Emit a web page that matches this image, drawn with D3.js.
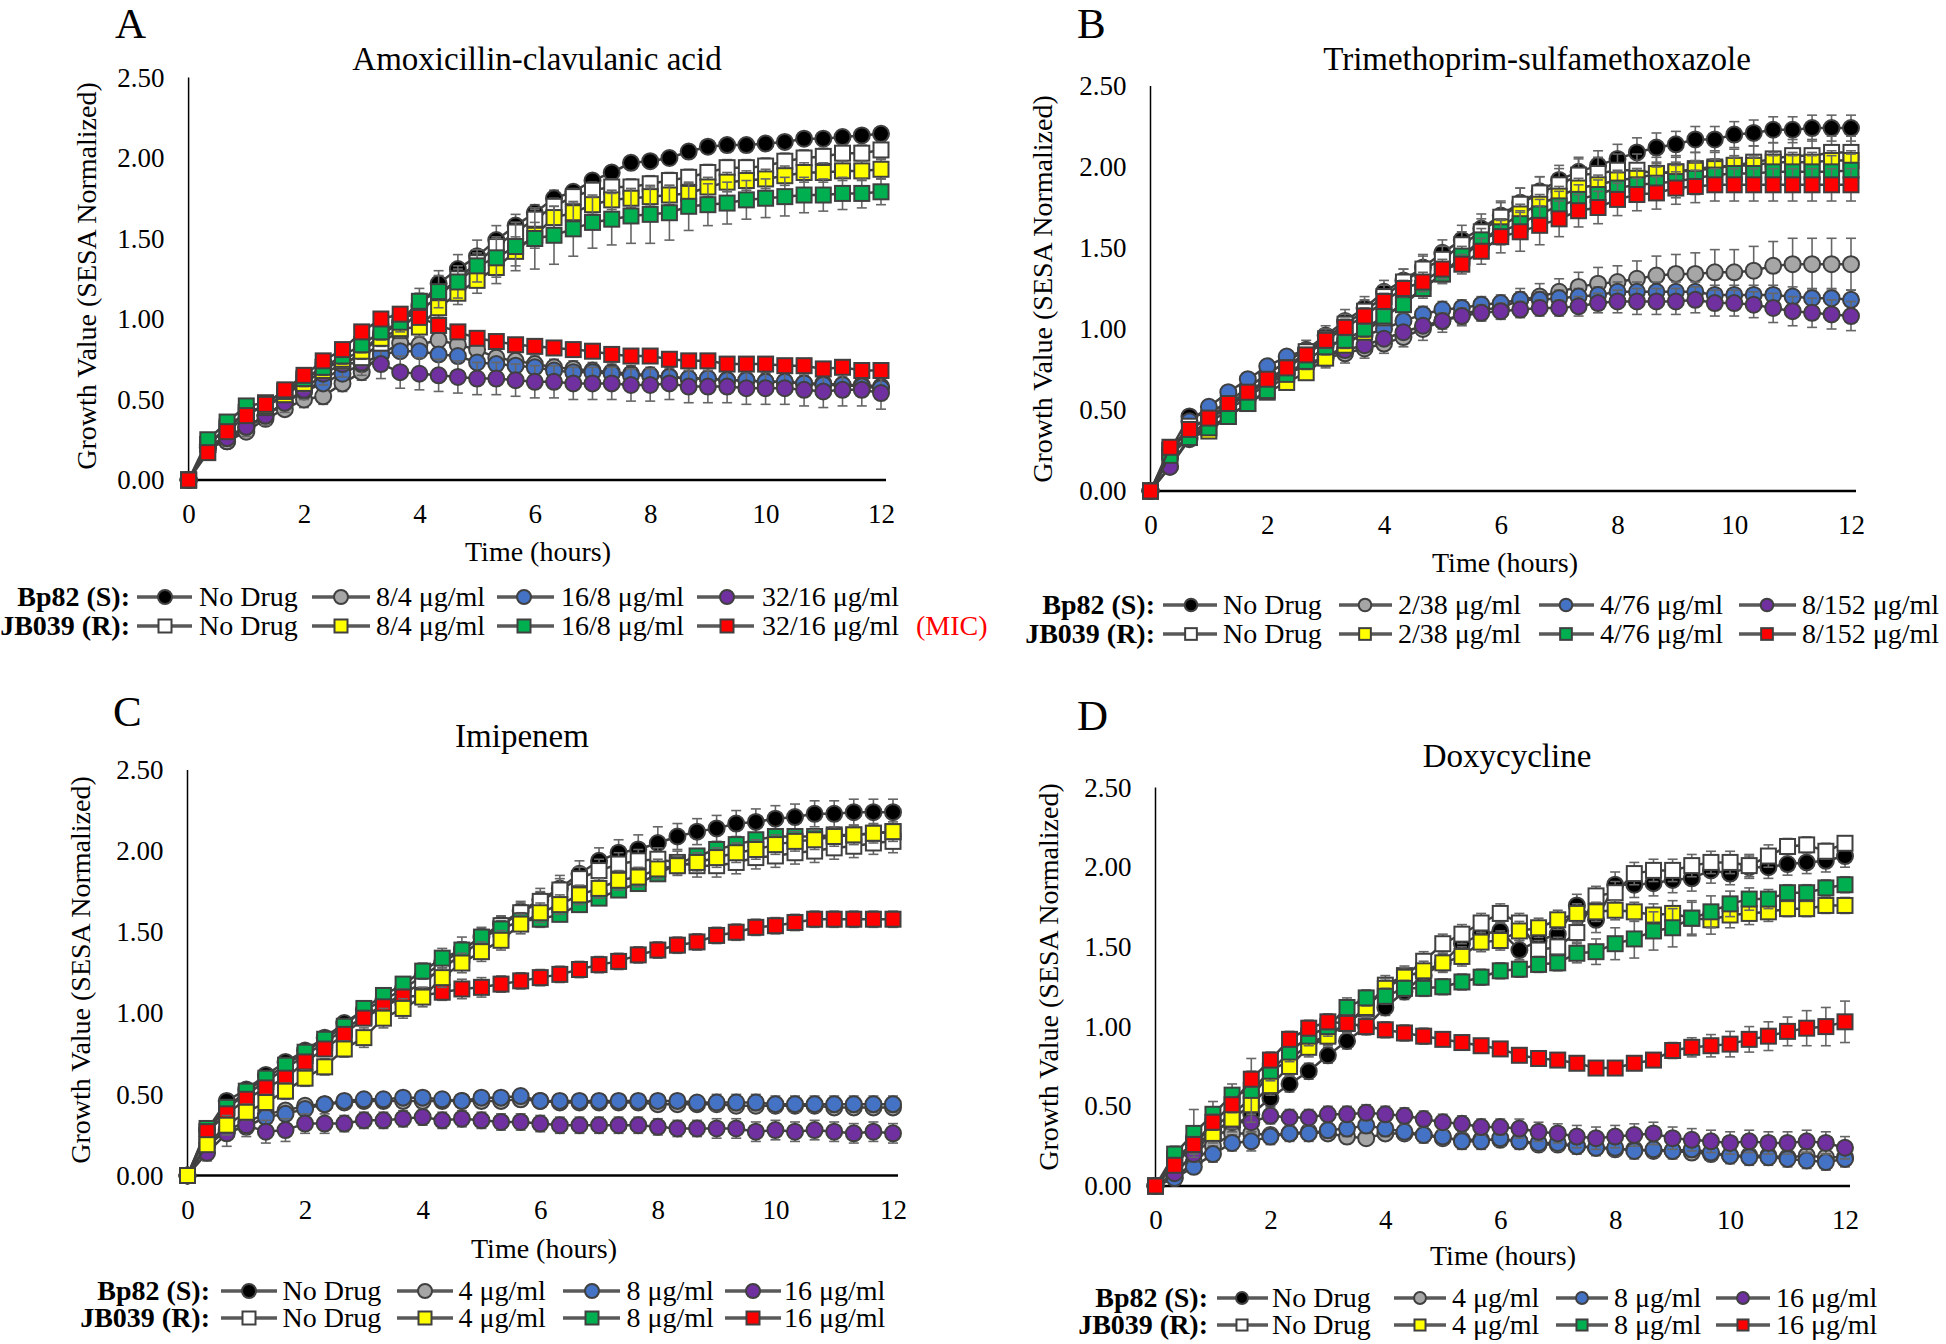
<!DOCTYPE html>
<html><head><meta charset="utf-8">
<script src="https://cdn.jsdelivr.net/npm/d3@7"></script>
<style>
body{margin:0;background:#fff}
svg{display:block}
text{font-family:"Liberation Serif","Times New Roman",serif;fill:#000}
</style>
</head><body>
<svg id="chart" width="1946" height="1344"></svg>
<script>
// ---------------- DATA ----------------
const time = [0,0.333,0.667,1,1.333,1.667,2,2.333,2.667,3,3.333,3.667,4,4.333,4.667,5,5.333,5.667,6,6.333,6.667,7,7.333,7.667,8,8.333,8.667,9,9.333,9.667,10,10.333,10.667,11,11.333,11.667,12];
const xTicks = [0,2,4,6,8,10,12];
const yTicks = [0,0.5,1,1.5,2,2.5];

const titles = ["Amoxicillin-clavulanic acid","Trimethoprim-sulfamethoxazole","Imipenem","Doxycycline"];
const panelLetters = ["A","B","C","D"];
const strainLabels = ["Bp82 (S):","JB039 (R):"];
const legA = ["No Drug","8/4 μg/ml","16/8 μg/ml","32/16 μg/ml"];
const legB = ["No Drug","2/38 μg/ml","4/76 μg/ml","8/152 μg/ml"];
const legC = ["No Drug","4 μg/ml","8 μg/ml","16 μg/ml"];
const legD = ["No Drug","4 μg/ml","8 μg/ml","16 μg/ml"];

// Panel A
const aBlack  = [0,0.22,0.24,0.32,0.40,0.48,0.55,0.62,0.70,0.80,0.90,0.98,1.08,1.22,1.31,1.39,1.49,1.58,1.66,1.75,1.79,1.86,1.91,1.97,1.98,2.00,2.04,2.07,2.08,2.08,2.09,2.10,2.12,2.12,2.13,2.14,2.15];
const aGray   = [0,0.20,0.24,0.30,0.38,0.44,0.50,0.52,0.60,0.67,0.78,0.85,0.84,0.87,0.84,0.81,0.76,0.74,0.72,0.70,0.69,0.68,0.67,0.66,0.65,0.64,0.63,0.63,0.62,0.62,0.61,0.61,0.60,0.60,0.59,0.59,0.58];
const aBlue   = [0,0.21,0.27,0.33,0.40,0.48,0.55,0.60,0.66,0.72,0.78,0.80,0.80,0.78,0.77,0.73,0.72,0.71,0.70,0.68,0.67,0.67,0.66,0.65,0.65,0.64,0.63,0.63,0.62,0.62,0.61,0.61,0.60,0.59,0.59,0.58,0.57];
const aPurple = [0,0.20,0.26,0.33,0.40,0.48,0.56,0.66,0.72,0.73,0.72,0.67,0.66,0.65,0.64,0.63,0.63,0.62,0.61,0.61,0.60,0.60,0.60,0.59,0.59,0.60,0.58,0.58,0.58,0.57,0.57,0.57,0.56,0.55,0.56,0.56,0.54];
const aWhite  = [0,0.22,0.33,0.42,0.45,0.53,0.62,0.70,0.74,0.76,0.85,0.93,1.05,1.14,1.25,1.35,1.45,1.54,1.62,1.70,1.76,1.80,1.82,1.82,1.84,1.86,1.88,1.91,1.94,1.94,1.95,1.98,2.00,2.01,2.03,2.03,2.05];
const aYellow = [0,0.22,0.32,0.42,0.46,0.53,0.60,0.68,0.75,0.80,0.88,0.94,0.95,1.07,1.16,1.24,1.32,1.42,1.52,1.63,1.66,1.71,1.74,1.75,1.76,1.77,1.78,1.82,1.85,1.86,1.87,1.89,1.91,1.91,1.92,1.92,1.93];
const aGreen  = [0,0.25,0.36,0.46,0.48,0.55,0.63,0.70,0.77,0.84,0.92,0.98,1.11,1.17,1.23,1.33,1.38,1.45,1.50,1.52,1.56,1.60,1.62,1.64,1.65,1.66,1.70,1.71,1.72,1.74,1.75,1.76,1.77,1.77,1.78,1.78,1.79];
const aRed    = [0,0.17,0.30,0.40,0.47,0.56,0.65,0.74,0.81,0.92,1.00,1.03,1.01,0.96,0.92,0.88,0.86,0.84,0.83,0.82,0.81,0.80,0.78,0.77,0.77,0.75,0.74,0.74,0.72,0.72,0.72,0.71,0.71,0.69,0.70,0.68,0.68];
const aBlackE  = [0,.03,.04,.04,.04,.04,.04,.04,.05,.05,.05,.06,.08,.08,.09,.10,.09,.07,.05,.05,.04,.04,.04,.04,.04,.04,.04,.04,.04,.04,.04,.04,.04,.04,.04,.04,.04];
const aGrayE   = [0,.03,.04,.04,.04,.04,.05,.05,.05,.05,.05,.05,.05,.05,.05,.05,.05,.05,.05,.05,.05,.05,.05,.05,.05,.05,.05,.05,.05,.05,.05,.05,.05,.05,.05,.05,.05];
const aBlueE   = [0,.03,.04,.04,.04,.04,.04,.04,.04,.04,.04,.04,.04,.04,.04,.04,.04,.04,.04,.04,.04,.04,.04,.04,.04,.04,.04,.04,.04,.04,.04,.04,.04,.04,.04,.04,.04];
const aPurpleE = [0,.03,.05,.06,.06,.06,.06,.07,.08,.08,.09,.10,.10,.10,.10,.10,.10,.10,.10,.10,.10,.10,.10,.10,.10,.10,.10,.10,.10,.10,.10,.10,.10,.10,.10,.10,.10];
const aWhiteE  = [0,.03,.04,.04,.04,.04,.04,.05,.05,.05,.05,.05,.05,.06,.06,.06,.06,.06,.06,.05,.05,.05,.05,.05,.05,.05,.05,.05,.05,.05,.05,.05,.05,.05,.05,.05,.05];
const aYellowE = [0,.03,.04,.04,.04,.04,.05,.05,.05,.05,.05,.05,.06,.06,.07,.08,.10,.09,.08,.07,.06,.06,.06,.06,.06,.06,.06,.06,.06,.06,.06,.06,.06,.06,.06,.06,.06];
const aGreenE  = [0,.03,.04,.04,.04,.04,.05,.05,.05,.05,.05,.06,.08,.10,.10,.10,.12,.15,.19,.18,.17,.16,.16,.17,.18,.17,.15,.13,.13,.12,.12,.12,.11,.10,.10,.09,.08];
const aRedE    = [0,.03,.03,.03,.03,.03,.03,.03,.03,.04,.04,.04,.04,.04,.04,.03,.03,.03,.03,.03,.03,.03,.03,.03,.03,.03,.03,.03,.03,.03,.03,.03,.03,.03,.03,.03,.03];

// Panel B
const bBlack  = [0,0.25,0.46,0.48,0.55,0.64,0.72,0.80,0.87,0.96,1.05,1.13,1.23,1.30,1.38,1.47,1.55,1.62,1.70,1.78,1.85,1.92,1.97,2.01,2.05,2.09,2.12,2.14,2.17,2.17,2.20,2.21,2.23,2.23,2.24,2.24,2.24];
const bGray   = [0,0.15,0.33,0.45,0.52,0.60,0.68,0.73,0.77,0.82,0.85,0.88,0.91,0.95,1.00,1.05,1.09,1.12,1.13,1.18,1.20,1.23,1.26,1.28,1.29,1.31,1.33,1.34,1.34,1.35,1.35,1.36,1.39,1.40,1.40,1.40,1.40];
const bBlue   = [0,0.20,0.43,0.52,0.61,0.69,0.77,0.83,0.87,0.90,0.93,0.96,1.00,1.05,1.09,1.12,1.13,1.15,1.16,1.18,1.18,1.19,1.20,1.21,1.23,1.23,1.23,1.23,1.23,1.21,1.21,1.21,1.21,1.20,1.19,1.19,1.18];
const bPurple = [0,0.15,0.32,0.42,0.50,0.58,0.66,0.72,0.78,0.83,0.87,0.90,0.94,0.98,1.02,1.05,1.08,1.10,1.11,1.12,1.13,1.13,1.14,1.16,1.17,1.17,1.17,1.17,1.18,1.16,1.16,1.15,1.13,1.11,1.10,1.09,1.08];
const bWhite  = [0,0.25,0.40,0.44,0.52,0.60,0.68,0.76,0.86,0.94,1.03,1.11,1.20,1.29,1.37,1.43,1.52,1.60,1.69,1.77,1.84,1.89,1.95,1.96,1.98,1.98,1.96,1.97,1.99,2.00,2.01,2.03,2.05,2.07,2.07,2.09,2.09];
const bYellow = [0,0.25,0.33,0.37,0.46,0.54,0.61,0.67,0.73,0.82,0.90,0.98,1.07,1.16,1.25,1.34,1.44,1.54,1.63,1.71,1.77,1.82,1.87,1.89,1.92,1.93,1.96,1.97,1.98,1.99,2.01,2.01,2.03,2.03,2.03,2.04,2.04];
const bGreen  = [0,0.22,0.33,0.39,0.46,0.54,0.62,0.72,0.80,0.89,0.93,1.00,1.08,1.15,1.25,1.34,1.45,1.55,1.60,1.65,1.71,1.76,1.80,1.83,1.87,1.89,1.90,1.91,1.93,1.95,1.96,1.96,1.97,1.97,1.97,1.97,1.98];
const bRed    = [0,0.27,0.38,0.45,0.54,0.61,0.69,0.76,0.84,0.93,1.01,1.08,1.17,1.25,1.29,1.37,1.40,1.48,1.57,1.60,1.64,1.68,1.73,1.75,1.80,1.83,1.84,1.87,1.88,1.89,1.89,1.89,1.89,1.89,1.89,1.89,1.89];
const bBlackE  = [0,.03,.04,.04,.05,.05,.05,.05,.06,.06,.07,.07,.07,.07,.08,.08,.09,.09,.09,.09,.09,.09,.09,.09,.09,.09,.09,.08,.08,.08,.08,.08,.08,.08,.08,.08,.08];
const bGrayE   = [0,.03,.04,.04,.04,.04,.05,.05,.05,.06,.06,.06,.06,.06,.07,.07,.07,.07,.07,.07,.08,.08,.09,.10,.10,.11,.12,.12,.13,.14,.14,.15,.15,.16,.16,.16,.16];
const bBlueE   = [0,.03,.04,.04,.04,.04,.04,.04,.04,.04,.04,.04,.05,.05,.05,.05,.05,.05,.05,.05,.05,.05,.05,.05,.06,.06,.06,.06,.06,.06,.06,.06,.06,.06,.06,.06,.06];
const bPurpleE = [0,.03,.04,.04,.04,.04,.04,.04,.04,.04,.04,.04,.04,.04,.04,.05,.05,.05,.05,.05,.05,.05,.06,.06,.07,.08,.08,.08,.08,.08,.08,.08,.09,.09,.09,.09,.09];
const bWhiteE  = [0,.03,.04,.04,.04,.04,.05,.05,.05,.06,.06,.07,.07,.08,.08,.08,.08,.08,.09,.10,.10,.10,.10,.10,.10,.10,.10,.10,.10,.10,.10,.10,.10,.10,.10,.10,.10];
const bYellowE = [0,.03,.04,.04,.04,.04,.04,.04,.04,.05,.05,.05,.05,.05,.05,.05,.05,.05,.05,.06,.06,.06,.06,.06,.06,.06,.06,.06,.06,.06,.06,.06,.06,.06,.06,.06,.06];
const bGreenE  = [0,.03,.04,.04,.04,.04,.04,.04,.05,.05,.05,.05,.05,.05,.06,.06,.06,.07,.08,.08,.09,.09,.09,.09,.10,.10,.10,.10,.10,.10,.10,.10,.10,.10,.10,.10,.10];
const bRedE    = [0,.03,.04,.04,.04,.04,.04,.04,.04,.05,.05,.05,.05,.05,.06,.06,.06,.08,.10,.12,.12,.11,.10,.10,.10,.10,.10,.10,.10,.10,.10,.10,.10,.10,.10,.10,.10];

// Panel C
const cBlack  = [0,0.28,0.46,0.53,0.62,0.70,0.77,0.85,0.94,1.02,1.08,1.15,1.23,1.31,1.39,1.47,1.55,1.63,1.70,1.77,1.86,1.94,1.99,2.01,2.05,2.09,2.12,2.14,2.17,2.18,2.20,2.21,2.23,2.23,2.24,2.24,2.24];
const cGray   = [0,0.18,0.28,0.33,0.38,0.40,0.43,0.44,0.45,0.46,0.46,0.46,0.46,0.46,0.46,0.46,0.46,0.47,0.46,0.45,0.45,0.45,0.45,0.45,0.44,0.44,0.44,0.44,0.43,0.43,0.43,0.43,0.43,0.42,0.42,0.42,0.42];
const cBlue   = [0,0.20,0.27,0.30,0.36,0.38,0.41,0.44,0.46,0.47,0.47,0.48,0.48,0.47,0.46,0.48,0.48,0.49,0.46,0.46,0.46,0.46,0.46,0.46,0.46,0.46,0.45,0.45,0.45,0.45,0.44,0.44,0.44,0.44,0.44,0.44,0.44];
const cPurple = [0,0.14,0.26,0.31,0.27,0.28,0.32,0.32,0.32,0.34,0.34,0.35,0.36,0.34,0.35,0.34,0.33,0.33,0.32,0.31,0.31,0.31,0.31,0.31,0.30,0.29,0.29,0.29,0.29,0.27,0.28,0.27,0.28,0.27,0.26,0.27,0.26];
const cWhite  = [0,0.27,0.42,0.50,0.58,0.66,0.74,0.82,0.90,0.98,1.05,1.12,1.19,1.28,1.36,1.45,1.54,1.62,1.69,1.76,1.83,1.88,1.92,1.94,1.95,1.93,1.91,1.91,1.93,1.96,1.97,1.99,2.00,2.02,2.03,2.05,2.06];
const cYellow = [0,0.19,0.31,0.39,0.45,0.52,0.60,0.67,0.78,0.85,0.97,1.03,1.10,1.22,1.31,1.38,1.45,1.55,1.62,1.67,1.73,1.77,1.82,1.84,1.89,1.91,1.93,1.96,1.99,2.01,2.04,2.06,2.07,2.09,2.10,2.11,2.12];
const cGreen  = [0,0.29,0.42,0.52,0.60,0.68,0.76,0.84,0.92,1.03,1.11,1.18,1.26,1.34,1.39,1.47,1.52,1.57,1.58,1.61,1.67,1.71,1.76,1.80,1.86,1.92,1.97,2.01,2.04,2.07,2.09,2.09,2.09,2.10,2.10,2.11,2.12];
const cRed    = [0,0.27,0.38,0.47,0.54,0.60,0.70,0.78,0.87,0.97,1.04,1.10,1.11,1.13,1.15,1.16,1.18,1.20,1.22,1.24,1.27,1.30,1.32,1.36,1.39,1.42,1.44,1.48,1.50,1.53,1.54,1.56,1.58,1.58,1.58,1.58,1.58];
const cBlackE  = [0,.03,.04,.04,.04,.04,.04,.04,.04,.05,.05,.05,.05,.05,.05,.05,.05,.06,.07,.08,.08,.08,.08,.09,.10,.08,.08,.08,.08,.08,.08,.08,.08,.08,.08,.08,.08];
const cGrayE   = [0,.04,.04,.04,.04,.04,.04,.04,.04,.04,.04,.04,.04,.04,.04,.04,.04,.04,.04,.04,.04,.04,.04,.04,.04,.04,.04,.04,.04,.04,.04,.04,.04,.04,.04,.04,.04];
const cBlueE   = [0,.04,.04,.04,.04,.04,.04,.04,.04,.04,.04,.04,.04,.04,.04,.04,.04,.04,.04,.04,.04,.04,.04,.04,.04,.04,.04,.05,.05,.05,.05,.05,.05,.05,.05,.05,.05];
const cPurpleE = [0,.05,.08,.07,.07,.07,.06,.06,.05,.05,.05,.05,.05,.05,.05,.05,.05,.05,.05,.05,.05,.05,.05,.05,.05,.05,.05,.06,.06,.06,.06,.06,.06,.06,.06,.06,.06];
const cWhiteE  = [0,.03,.04,.04,.04,.04,.04,.05,.05,.05,.05,.05,.05,.05,.06,.06,.06,.06,.06,.07,.07,.07,.07,.07,.07,.07,.07,.07,.07,.07,.07,.07,.07,.07,.07,.07,.07];
const cYellowE = [0,.04,.06,.05,.05,.05,.05,.05,.05,.06,.06,.06,.06,.06,.06,.06,.06,.06,.06,.06,.06,.06,.06,.06,.06,.06,.06,.06,.06,.06,.06,.06,.06,.06,.06,.06,.06];
const cGreenE  = [0,.03,.04,.04,.04,.04,.04,.04,.04,.04,.04,.04,.05,.06,.08,.06,.05,.05,.05,.04,.04,.04,.04,.04,.04,.04,.04,.04,.04,.04,.04,.04,.04,.04,.04,.04,.04];
const cRedE    = [0,.03,.04,.04,.04,.04,.04,.04,.04,.04,.04,.05,.05,.05,.06,.06,.05,.05,.05,.05,.05,.05,.05,.05,.05,.05,.05,.05,.05,.05,.05,.05,.05,.05,.05,.05,.05];

// Panel D
const dBlack  = [0,0.08,0.20,0.30,0.37,0.45,0.55,0.64,0.72,0.82,0.91,1.00,1.12,1.22,1.32,1.40,1.52,1.58,1.60,1.48,1.54,1.58,1.76,1.67,1.89,1.89,1.90,1.92,1.93,1.98,1.96,2.00,2.00,2.02,2.03,2.04,2.07];
const dGray   = [0,0.05,0.15,0.25,0.33,0.33,0.32,0.33,0.34,0.33,0.31,0.30,0.33,0.33,0.32,0.30,0.29,0.29,0.29,0.28,0.26,0.26,0.25,0.24,0.23,0.23,0.22,0.22,0.21,0.20,0.19,0.19,0.19,0.18,0.19,0.18,0.18];
const dBlue   = [0,0.05,0.12,0.20,0.27,0.28,0.31,0.33,0.33,0.35,0.36,0.38,0.36,0.34,0.32,0.31,0.28,0.28,0.30,0.28,0.27,0.27,0.25,0.24,0.24,0.22,0.23,0.22,0.23,0.21,0.19,0.18,0.18,0.17,0.16,0.15,0.17];
const dPurple = [0,0.08,0.20,0.35,0.40,0.40,0.44,0.43,0.43,0.45,0.45,0.46,0.45,0.44,0.42,0.40,0.39,0.37,0.37,0.36,0.34,0.33,0.31,0.30,0.31,0.32,0.33,0.30,0.29,0.28,0.27,0.28,0.27,0.27,0.28,0.27,0.24];
const dWhite  = [0,0.17,0.27,0.37,0.45,0.55,0.72,0.79,0.89,0.95,1.02,1.11,1.26,1.32,1.41,1.52,1.58,1.65,1.71,1.65,1.48,1.50,1.59,1.82,1.84,1.96,1.98,1.98,2.01,2.03,2.03,2.01,2.07,2.13,2.14,2.10,2.15];
const dYellow = [0,0.15,0.26,0.33,0.42,0.51,0.63,0.75,0.87,0.94,1.02,1.12,1.24,1.31,1.35,1.40,1.44,1.53,1.54,1.60,1.62,1.67,1.71,1.72,1.73,1.72,1.70,1.71,1.68,1.67,1.70,1.71,1.72,1.74,1.74,1.76,1.76];
const dGreen  = [0,0.20,0.33,0.45,0.57,0.60,0.72,0.84,0.94,1.00,1.12,1.18,1.19,1.24,1.24,1.25,1.28,1.31,1.35,1.36,1.39,1.40,1.46,1.47,1.52,1.55,1.60,1.62,1.68,1.72,1.77,1.80,1.80,1.84,1.84,1.87,1.89];
const dRed    = [0,0.13,0.26,0.40,0.51,0.67,0.79,0.92,0.99,1.03,1.02,1.00,0.98,0.96,0.94,0.92,0.90,0.88,0.86,0.82,0.80,0.79,0.77,0.74,0.74,0.77,0.79,0.85,0.87,0.88,0.89,0.92,0.94,0.97,0.99,1.00,1.03];
const dBlackE  = [0,.04,.08,.06,.05,.05,.05,.05,.05,.05,.05,.05,.05,.05,.05,.05,.05,.05,.05,.06,.06,.06,.07,.08,.08,.08,.08,.08,.08,.08,.07,.07,.07,.07,.07,.07,.07];
const dGrayE   = [0,.03,.04,.04,.04,.04,.04,.04,.04,.04,.04,.04,.04,.04,.04,.04,.04,.04,.04,.04,.04,.04,.04,.04,.04,.04,.04,.04,.04,.04,.04,.04,.04,.04,.04,.04,.04];
const dBlueE   = [0,.03,.04,.05,.05,.06,.05,.05,.05,.05,.05,.05,.05,.05,.05,.05,.05,.05,.05,.05,.05,.05,.05,.05,.05,.05,.05,.05,.05,.05,.05,.05,.05,.05,.05,.05,.05];
const dPurpleE = [0,.03,.05,.06,.06,.06,.05,.05,.05,.05,.05,.05,.05,.05,.05,.05,.05,.05,.05,.06,.06,.06,.07,.07,.07,.07,.07,.07,.07,.07,.07,.07,.07,.07,.07,.07,.07];
const dWhiteE  = [0,.05,.06,.06,.06,.06,.06,.06,.06,.06,.06,.06,.06,.06,.06,.06,.06,.06,.06,.06,.06,.06,.06,.06,.07,.07,.07,.07,.07,.07,.07,.07,.07,.05,.05,.05,.04];
const dYellowE = [0,.04,.06,.06,.06,.06,.06,.06,.06,.06,.06,.06,.06,.06,.06,.06,.06,.06,.06,.06,.06,.06,.06,.06,.06,.06,.07,.08,.10,.09,.08,.07,.06,.05,.05,.05,.05];
const dGreenE  = [0,.05,.15,.08,.07,.20,.06,.06,.06,.06,.06,.05,.05,.05,.05,.05,.05,.05,.05,.05,.05,.05,.06,.08,.10,.12,.12,.12,.11,.10,.08,.07,.06,.05,.05,.05,.05];
const dRedE    = [0,.04,.05,.05,.05,.05,.05,.05,.05,.05,.05,.05,.05,.05,.05,.04,.04,.04,.04,.04,.04,.04,.04,.04,.04,.04,.04,.05,.06,.07,.08,.08,.09,.09,.11,.12,.13];

// ---------------- STYLE ----------------
const FONT = '"Liberation Serif","Times New Roman",serif';
const styles = [
  {fill:"#000000", shape:"circle"},
  {fill:"#a6a6a6", shape:"circle"},
  {fill:"#4472c4", shape:"circle"},
  {fill:"#7030a0", shape:"circle"},
  {fill:"#ffffff", shape:"square"},
  {fill:"#ffff00", shape:"square"},
  {fill:"#00b050", shape:"square"},
  {fill:"#ff0000", shape:"square"}
];
const STROKE = "#404040";

const panels = [
  {x0:188.6, x1:881, y0:480, y1:77.5, series:[aBlack,aGray,aBlue,aPurple,aWhite,aYellow,aGreen,aRed],
   errs:[aBlackE,aGrayE,aBlueE,aPurpleE,aWhiteE,aYellowE,aGreenE,aRedE], order:[0,1,2,3,4,5,6,7],
   letter:{x:115,y:38}, title:{x:537,y:70}, xt:{x:538,y:561}, yt:{x:86,y:276},
   leg:{labels:legA, right:130, rows:[606,635], items:[[137,192,165,199],[312,370,341,376],[497,554,524,561],[697,754,727,762]], mic:916, ms:1}},
  {x0:1150.5, x1:1851, y0:491, y1:86, series:[bBlack,bGray,bBlue,bPurple,bWhite,bYellow,bGreen,bRed],
   errs:[bBlackE,bGrayE,bBlueE,bPurpleE,bWhiteE,bYellowE,bGreenE,bRedE], order:[0,1,2,3,4,5,6,7],
   letter:{x:1077,y:38}, title:{x:1537,y:70}, xt:{x:1505,y:572}, yt:{x:1042,y:289},
   leg:{labels:legB, right:1155, rows:[614,643], items:[[1163,1217,1191,1223],[1339,1392,1365,1398],[1539,1594,1566,1600],[1739,1796,1767,1802]], ms:0.9}},
  {x0:187.5, x1:893, y0:1175.5, y1:770, series:[cBlack,cGray,cBlue,cPurple,cWhite,cYellow,cGreen,cRed],
   errs:[cBlackE,cGrayE,cBlueE,cPurpleE,cWhiteE,cYellowE,cGreenE,cRedE], order:[0,1,2,3,4,6,7,5],
   letter:{x:113,y:726}, title:{x:522,y:747}, xt:{x:544,y:1258}, yt:{x:80.5,y:970},
   leg:{labels:legC, right:210, rows:[1300,1327], items:[[221,277,249,282.5],[397,453,425,458.5],[563,620,592,626.5],[725,781,753,784]], ms:1}},
  {x0:1155.5, x1:1845, y0:1186, y1:787.5, series:[dBlack,dGray,dBlue,dPurple,dWhite,dYellow,dGreen,dRed],
   errs:[dBlackE,dGrayE,dBlueE,dPurpleE,dWhiteE,dYellowE,dGreenE,dRedE], order:[0,1,2,3,4,5,6,7],
   letter:{x:1077,y:730}, title:{x:1507,y:767}, xt:{x:1503,y:1265}, yt:{x:1048,y:977},
   leg:{labels:legD, right:1208, rows:[1307,1334], items:[[1217,1268,1242,1272],[1394,1446,1420,1452],[1556,1608,1582,1614],[1716,1770,1743,1776]], ms:0.85}}
];

const svg = d3.select("#chart");

function drawMarker(g, shape, cx, cy, fill, size, sw) {
  if (shape === "circle") {
    g.append("circle").attr("cx", cx).attr("cy", cy).attr("r", size/2)
      .attr("fill", fill).attr("stroke", STROKE).attr("stroke-width", sw);
  } else {
    g.append("rect").attr("x", cx - size/2).attr("y", cy - size/2).attr("width", size).attr("height", size)
      .attr("fill", fill).attr("stroke", STROKE).attr("stroke-width", sw);
  }
}

panels.forEach((p, pi) => {
  const x = d3.scaleLinear().domain([0, 12]).range([p.x0, p.x1]);
  const y = d3.scaleLinear().domain([0, 2.5]).range([p.y0, p.y1]);
  const g = svg.append("g");

  // Y axis
  const ya = g.append("g").attr("transform", `translate(${p.x0},0)`)
    .call(d3.axisLeft(y).tickValues(yTicks).tickFormat(d3.format(".2f")).tickSize(0).tickPadding(24));
  ya.select(".domain").remove();
  ya.attr("font-family", FONT).attr("font-size", 27);
  ya.selectAll("text").attr("fill", "#000");
  g.append("line").attr("x1", p.x0).attr("x2", p.x0).attr("y1", y(0)).attr("y2", y(2.5))
    .attr("stroke", "#000").attr("stroke-width", 1.5);

  // X axis
  const xa = g.append("g").attr("transform", `translate(0,${p.y0})`)
    .call(d3.axisBottom(x).tickValues(xTicks).tickFormat(d3.format("d")).tickSize(0).tickPadding(24));
  xa.select(".domain").remove();
  xa.attr("font-family", FONT).attr("font-size", 27);
  xa.selectAll("text").attr("fill", "#000");
  g.append("line").attr("x1", p.x0).attr("x2", x(12) + 5).attr("y1", y(0)).attr("y2", y(0))
    .attr("stroke", "#000").attr("stroke-width", 2.5);

  // Titles
  g.append("text").attr("x", p.letter.x).attr("y", p.letter.y).attr("font-size", 43).text(panelLetters[pi]);
  g.append("text").attr("x", p.title.x).attr("y", p.title.y).attr("font-size", 33).attr("text-anchor", "middle").text(titles[pi]);
  g.append("text").attr("x", p.xt.x).attr("y", p.xt.y).attr("font-size", 28).attr("text-anchor", "middle").text("Time (hours)");
  g.append("text").attr("transform", `translate(${p.yt.x},${p.yt.y}) rotate(-90)`).attr("dy", "0.35em")
    .attr("font-size", 28).attr("text-anchor", "middle").text("Growth Value (SESA Normalized)");

  // Series
  const line = d3.line().x((d, i) => x(time[i])).y(d => y(d));
  p.order.forEach(si => {
    const vals = p.series[si], err = p.errs[si], st = styles[si];
    const sg = g.append("g");
    sg.append("path").datum(vals).attr("d", line).attr("fill", "none")
      .attr("stroke", STROKE).attr("stroke-width", 2.5);
    const eg = sg.append("g").attr("stroke", "#666").attr("stroke-width", 1.6);
    vals.forEach((v, i) => {
      const e = err[i] || 0;
      if (e <= 0) return;
      const cx = x(time[i]);
      eg.append("line").attr("x1", cx).attr("x2", cx).attr("y1", y(v - e)).attr("y2", y(v + e));
      eg.append("line").attr("x1", cx - 5).attr("x2", cx + 5).attr("y1", y(v - e)).attr("y2", y(v - e));
      eg.append("line").attr("x1", cx - 5).attr("x2", cx + 5).attr("y1", y(v + e)).attr("y2", y(v + e));
    });
    vals.forEach((v, i) => drawMarker(sg, st.shape, x(time[i]), y(v), st.fill, st.shape === "circle" ? 16 : 15, 2));
  });

  // Legend
  const L = p.leg;
  const lg = svg.append("g");
  L.rows.forEach((ry, r) => {
    lg.append("text").attr("x", L.right).attr("y", ry).attr("font-size", 28).attr("font-weight", "bold")
      .attr("text-anchor", "end").text(strainLabels[r]);
    L.items.forEach((it, k) => {
      const si = r * 4 + k, st = styles[si];
      const cy = ry - 9;
      lg.append("line").attr("x1", it[0]).attr("x2", it[1]).attr("y1", cy).attr("y2", cy)
        .attr("stroke", "#595959").attr("stroke-width", 3.5);
      drawMarker(lg, st.shape, it[2], cy, st.fill, (st.shape === "circle" ? 14 : 13) * L.ms, 2);
      lg.append("text").attr("x", it[3]).attr("y", ry).attr("font-size", 28).text(L.labels[k]);
    });
    if (r === 1 && L.mic) {
      lg.append("text").attr("x", L.mic).attr("y", ry).attr("font-size", 28).attr("fill", "#ff0000")
        .style("fill", "#ff0000").text("(MIC)");
    }
  });
});
</script>
</body></html>
